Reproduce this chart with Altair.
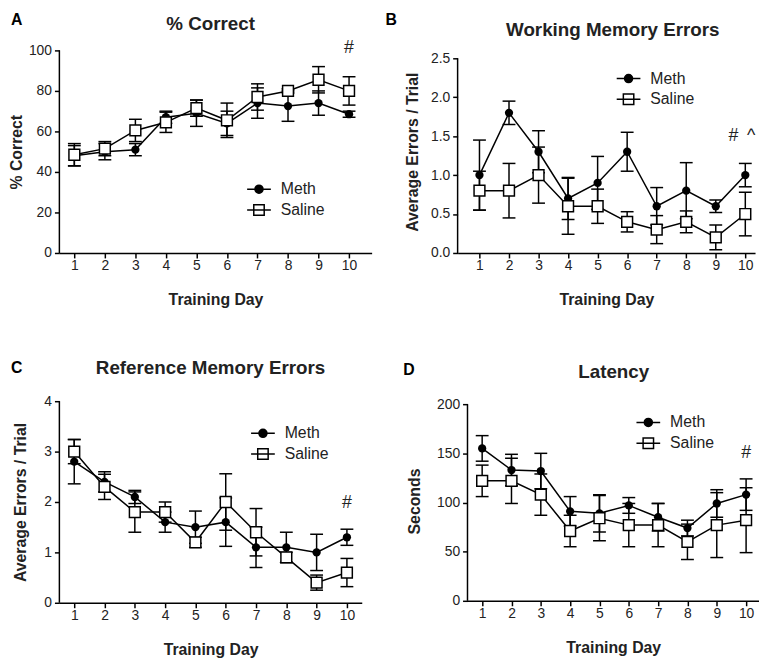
import altair as alt
import pandas as pd

days = list(range(1, 11))

# Panel A: % Correct
a_meth = [48, 50, 51, 67, 69, 64, 74, 72.5, 74, 68.5]
a_meth_err = [5, 4, 3, 3, 6.5, 6, 7.5, 7.5, 6, 1.5]
a_sal = [48.5, 51.5, 60.5, 64.5, 71.5, 65.5, 77, 80, 85.5, 80]
a_sal_err = [5.5, 3.5, 5.5, 5, 4, 8.5, 6.5, 1, 6.5, 7]

# Panel B: Working Memory Errors
b_meth = [1.0, 1.8, 1.3, 0.7, 0.9, 1.3, 0.6, 0.8, 0.6, 1.0]
b_meth_err = [0.45, 0.15, 0.27, 0.27, 0.34, 0.25, 0.24, 0.36, 0.08, 0.15]
b_sal = [0.8, 0.8, 1.0, 0.6, 0.6, 0.4, 0.3, 0.4, 0.2, 0.5]
b_sal_err = [0.25, 0.35, 0.36, 0.36, 0.22, 0.13, 0.18, 0.14, 0.16, 0.28]

# Panel C: Reference Memory Errors
c_meth = [2.8, 2.4, 2.1, 1.6, 1.5, 1.6, 1.1, 1.1, 1.0, 1.3]
c_meth_err = [0.44, 0.2, 0.13, 0.2, 0.32, 0.48, 0.4, 0.3, 0.36, 0.16]
c_sal = [3.0, 2.3, 1.8, 1.8, 1.2, 2.0, 1.4, 0.9, 0.4, 0.6]
c_sal_err = [0.24, 0.25, 0.4, 0.2, 0.1, 0.56, 0.47, 0.1, 0.15, 0.28]

# Panel D: Latency
d_meth = [155, 133, 132, 91, 89, 97, 85, 74, 99, 108]
d_meth_err = [13, 16, 18, 15, 19, 8, 14, 8, 14, 16]
d_sal = [122, 122, 108, 71, 84, 77, 77, 60, 77, 82]
d_sal_err = [16, 23, 21, 16, 23, 22, 22, 18, 33, 33]

# significance marks
a_notes = {"label": ["#"], "nx": [10], "ny": [101]}
b_notes = {"label": ["#", "^"], "nx": [9.6, 10.2], "ny": [1.5, 1.5]}
c_notes = {"label": ["#"], "nx": [10], "ny": [1.98]}
d_notes = {"label": ["#"], "nx": [10], "ny": [150]}

groups = ["Meth", "Saline"]

FONT = "Liberation Sans"
TXT = "#222222"

METH_SYM = "M-1,0L1,0M-0.34,0A0.34,0.34,0,1,1,0.34,0A0.34,0.34,0,1,1,-0.34,0Z"
SAL_SYM = "M-1,0L1,0M-0.44,-0.44L0.44,-0.44L0.44,0.44L-0.44,0.44Z"


def panel(letter, title, ytitle, meth, meth_err, sal, sal_err, notes,
          yrange, yticks, yfmt, xdomain, w, h, h_axis, leg_xy, letter_xy,
          title_xy, ytitle_pad):
    df = pd.DataFrame({
        "day": days * 2,
        "group": ["Meth"] * 10 + ["Saline"] * 10,
        "value": meth + sal,
        "err": meth_err + sal_err,
    })
    df["lo"] = df["value"] - df["err"]
    df["hi"] = df["value"] + df["err"]

    # the plot box may be taller than the drawn axis (h vs h_axis)
    ytop = yrange[1] * h / h_axis
    xscale = alt.Scale(domain=xdomain, nice=False, zero=False)
    yscale = alt.Scale(domain=[yrange[0], ytop], nice=False, zero=False)
    xaxis = alt.Axis(values=days, title="Training Day", format="d",
                     titlePadding=19, labelPadding=1)
    yaxis = alt.Axis(values=yticks, format=yfmt, title=ytitle, domain=False,
                     titlePadding=ytitle_pad, labelPadding=3)

    def X(f):
        return alt.X(f"{f}:Q", scale=xscale, axis=xaxis)

    def Y(f):
        return alt.Y(f"{f}:Q", scale=yscale, axis=yaxis)

    axdf = pd.DataFrame({"x0": [xdomain[0]], "y0": [yrange[0]], "y1": [yrange[1]]})
    yline = alt.Chart(axdf).mark_rule(color="black", strokeWidth=1.5).encode(
        x=X("x0"), y=Y("y0"), y2="y1")

    base = alt.Chart(df)
    bars = base.mark_rule(color="black", strokeWidth=1.5).encode(
        x=X("day"), y=Y("lo"), y2="hi")
    cap_lo = base.mark_tick(color="black", orient="horizontal", size=13,
                            thickness=1.5, opacity=1).encode(x=X("day"), y=Y("lo"))
    cap_hi = base.mark_tick(color="black", orient="horizontal", size=13,
                            thickness=1.5, opacity=1).encode(x=X("day"), y=Y("hi"))
    line = base.mark_line(color="black", strokeWidth=1.5).encode(
        x=X("day"), y=Y("value"), detail="group:N")
    pts_m = base.transform_filter("datum.group == 'Meth'").mark_point(
        shape="circle", filled=True, color="black", size=70, opacity=1).encode(
        x=X("day"), y=Y("value"))
    pts_s = base.transform_filter("datum.group == 'Saline'").mark_point(
        shape="square", fill="white", stroke="black", strokeWidth=1.5,
        size=120, opacity=1).encode(x=X("day"), y=Y("value"))

    leg = alt.Legend(orient="none", legendX=leg_xy[0], legendY=leg_xy[1],
                     title=None, labelFont=FONT, labelFontSize=16,
                     labelColor=TXT, symbolSize=576, symbolStrokeColor="black",
                     symbolStrokeWidth=1.5, rowPadding=0, labelOffset=9)
    legend_layer = base.transform_filter("false").mark_point(
        filled=False, strokeWidth=1.5, opacity=1).encode(
        shape=alt.Shape("group:N", scale=alt.Scale(domain=groups,
                        range=[METH_SYM, SAL_SYM]), legend=leg),
        fill=alt.Fill("group:N", scale=alt.Scale(domain=groups,
                      range=["black", "transparent"]), legend=leg),
        stroke=alt.Stroke("group:N", scale=alt.Scale(domain=groups,
                          range=["black", "black"]), legend=leg),
    )

    ndf = pd.DataFrame(notes)
    note_layer = alt.Chart(ndf).mark_text(
        font=FONT, fontSize=18, color=TXT, baseline="middle").encode(
        x=X("nx"), y=Y("ny"), text="label:N")

    tdf = pd.DataFrame({"t": [title]})
    title_layer = alt.Chart(tdf).mark_text(
        font=FONT, fontSize=19, fontWeight="bold", color=TXT,
        baseline="middle", align="center").encode(
        text="t:N", x=alt.value(title_xy[0]), y=alt.value(title_xy[1]))
    ldf = pd.DataFrame({"t": [letter]})
    letter_layer = alt.Chart(ldf).mark_text(
        font=FONT, fontSize=16, fontWeight="bold", color="black",
        baseline="middle", align="left").encode(
        text="t:N", x=alt.value(letter_xy[0]), y=alt.value(letter_xy[1]))

    return alt.layer(yline, bars, cap_lo, cap_hi, line, pts_m, pts_s,
                     legend_layer, note_layer, title_layer,
                     letter_layer).resolve_scale(
        shape="independent", fill="independent", stroke="independent"
    ).properties(width=w, height=h)


pa = panel("A", "% Correct", "% Correct", a_meth, a_meth_err, a_sal, a_sal_err,
           a_notes, [0, 100], [0, 20, 40, 60, 80, 100], "d", [0.51, 10.74],
           316, 205, 205, (189, 127.5), (-49, -31), (153, -27), 4)
pb = panel("B", "Working Memory Errors", "Average Errors / Trial", b_meth,
           b_meth_err, b_sal, b_sal_err, b_notes, [0, 2.5],
           [0, 0.5, 1.0, 1.5, 2.0, 2.5], ".1f", [0.26, 10.33],
           301, 205, 197, (160, 15.5), (-73, -31), (157, -21), 10)
pc = panel("C", "Reference Memory Errors", "Average Errors / Trial", c_meth,
           c_meth_err, c_sal, c_sal_err, c_notes, [0, 4], [0, 1, 2, 3, 4], "d",
           [0.51, 10.49], 306, 204, 204, (193, 19.5), (-49, -34), (153, -34), 16)
pd_ = panel("D", "Latency", "Seconds", d_meth, d_meth_err, d_sal, d_sal_err,
            d_notes, [0, 200], [0, 50, 100, 150, 200], "d", [0.5, 10.44],
            295, 202, 199, (170, 8.5), (-65, -32), (148, -29), 14)

IND = dict(shape="independent", fill="independent", stroke="independent")

row1 = alt.concat(pa, pb, columns=2, spacing=14).resolve_scale(
    **IND).resolve_legend(**IND)
row2 = alt.concat(pc, pd_, columns=2, spacing=42).resolve_scale(
    **IND).resolve_legend(**IND)

chart = alt.vconcat(row1, row2, spacing=52).resolve_scale(**IND).resolve_legend(
    **IND).properties(
    padding=0, background="white"
).configure_view(stroke=None).configure_axis(
    grid=False, domainColor="black", tickColor="black", domainWidth=1.5,
    tickWidth=1.5, tickSize=5, labelFont=FONT, labelFontSize=14,
    labelColor=TXT, titleFont=FONT, titleFontSize=16, titleFontWeight="bold",
    titleColor=TXT
)

chart.save("out.html", embed_options={"renderer": "svg", "actions": False})
